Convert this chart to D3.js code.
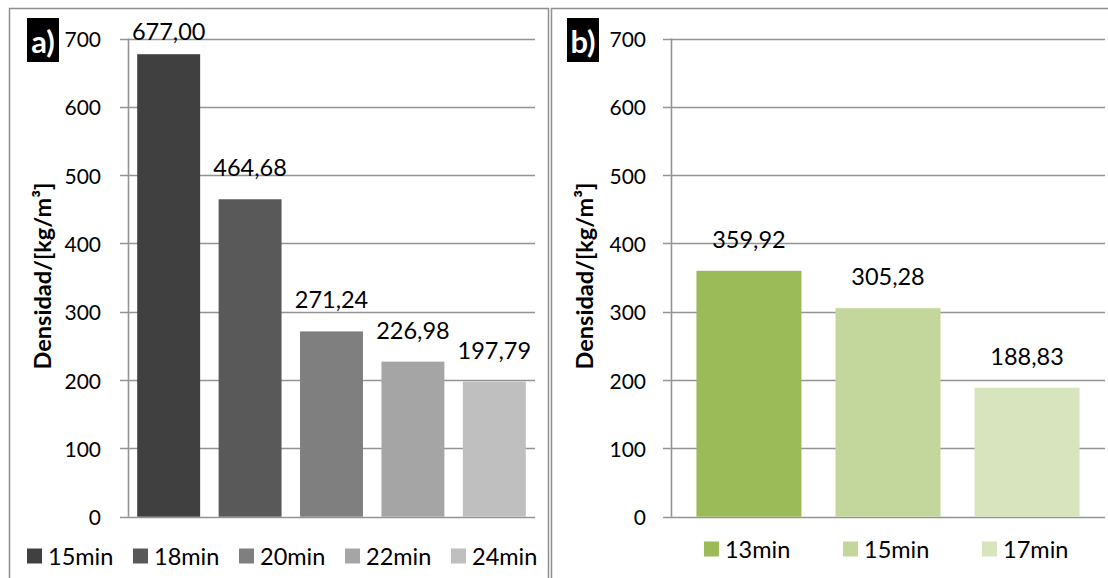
<!DOCTYPE html>
<html>
<head>
<meta charset="utf-8">
<script src="https://cdn.jsdelivr.net/npm/d3@7"></script>
<style>
  html, body { margin: 0; padding: 0; background: #fff; }
  svg { display: block; font-family: Lato, "Open Sans", sans-serif; }
</style>
</head>
<body>
<svg id="chart" width="1108" height="578"></svg>
<script>
// ---- data ----
const categoriesA = ["15min", "18min", "20min", "22min", "24min"];
const valuesA = [677.00, 464.68, 271.24, 226.98, 197.79];
const colorsA = ["#404040", "#595959", "#7f7f7f", "#a5a5a5", "#bfbfbf"];

const categoriesB = ["13min", "15min", "17min"];
const valuesB = [359.92, 305.28, 188.83];
const colorsB = ["#9bbb59", "#c3d69b", "#d7e4bd"];

const yTicks = [0, 100, 200, 300, 400, 500, 600, 700];
const yTitle = "Densidad/[kg/m³]";
const panelLabels = ["a)", "b)"];

const fmt = v => v.toFixed(2).replace(".", ",");

const svg = d3.select("#chart");

// panel frames
svg.append("rect").attr("x", 9.5).attr("y", 8.5).attr("width", 539).attr("height", 600)
  .attr("fill", "none").attr("stroke", "#8f8f8f").attr("stroke-width", 1.5);
svg.append("rect").attr("x", 551.5).attr("y", 8.5).attr("width", 600).attr("height", 600)
  .attr("fill", "none").attr("stroke", "#8f8f8f").attr("stroke-width", 1.5);

function drawPanel(o) {
  const g = svg.append("g");
  const y = d3.scaleLinear().domain([0, 700]).range([516.7, 38.5]);
  const x = d3.scaleBand().domain(o.cats).range([o.x0, o.x1])
    .paddingInner(o.pi).paddingOuter(o.po);

  // gridlines + ticks
  g.selectAll(".grid").data(yTicks).join("line")
    .attr("x1", o.x0 - 8).attr("x2", o.gridEnd)
    .attr("y1", d => Math.round(y(d)) + 0.5).attr("y2", d => Math.round(y(d)) + 0.5)
    .attr("stroke", "#939393").attr("stroke-width", 1.6);
  // axis line
  g.append("line").attr("x1", o.x0 + 0.5).attr("x2", o.x0 + 0.5)
    .attr("y1", y(700)).attr("y2", y(0))
    .attr("stroke", "#939393").attr("stroke-width", 1.6);

  // tick labels
  g.selectAll(".tl").data(yTicks).join("text")
    .attr("x", o.tickLabelX).attr("y", d => y(d))
    .attr("text-anchor", "end").attr("dominant-baseline", "central")
    .attr("font-size", 21).attr("fill", "#000").text(d => d);

  // bars
  g.selectAll(".bar").data(o.vals).join("rect")
    .attr("x", (d, i) => x(o.cats[i])).attr("width", x.bandwidth())
    .attr("y", d => y(d)).attr("height", d => y(0) - y(d))
    .attr("fill", (d, i) => o.colors[i]);

  // value labels
  g.selectAll(".vl").data(o.vals).join("text")
    .attr("x", (d, i) => x(o.cats[i]) + x.bandwidth() / 2)
    .attr("y", d => Math.max(31, y(d) - 32))
    .attr("text-anchor", "middle").attr("dominant-baseline", "central")
    .attr("font-size", 23.5).attr("fill", "#000").text(d => fmt(d));

  // y title
  g.append("text")
    .attr("transform", `translate(${o.titleX},276) rotate(-90)`)
    .attr("text-anchor", "middle").attr("dominant-baseline", "central")
    .attr("font-size", 23.5).attr("font-weight", "bold").text(yTitle);

  // panel letter
  g.append("rect").attr("x", o.boxX).attr("y", 18).attr("width", 32).attr("height", 44)
    .attr("fill", "#000");
  g.append("text").attr("x", o.boxX + 16).attr("y", 41)
    .attr("text-anchor", "middle").attr("dominant-baseline", "central")
    .attr("font-size", 31).attr("font-weight", "bold").attr("fill", "#fff").text(o.letter);

  // legend
  const lg = g.selectAll(".lg").data(o.cats).join("g")
    .attr("transform", (d, i) => `translate(${o.legendX(i, x)},${o.legendY})`);
  lg.append("rect").attr("x", 0).attr("y", -7.5).attr("width", 15).attr("height", 15)
    .attr("fill", (d, i) => o.colors[i]);
  lg.append("text").attr("x", 21).attr("y", 0).attr("dominant-baseline", "central")
    .attr("font-size", 23.5).attr("fill", "#000").text(d => d);
}

drawPanel({
  cats: categoriesA, vals: valuesA, colors: colorsA,
  x0: 128, x1: 535, pi: 0.227, po: 0.113, gridEnd: 535,
  tickLabelX: 101, titleX: 42, boxX: 27, letter: panelLabels[0],
  legendY: 556, legendX: (i) => 27 + i * 106
});

drawPanel({
  cats: categoriesB, vals: valuesB, colors: colorsB,
  x0: 671, x1: 1105, pi: 0.245, po: 0.183, gridEnd: 1105,
  tickLabelX: 646, titleX: 584, boxX: 567, letter: panelLabels[1],
  legendY: 549, legendX: (i, x) => x(categoriesB[i]) + x.bandwidth() / 2 - 45
});
</script>
</body>
</html>
